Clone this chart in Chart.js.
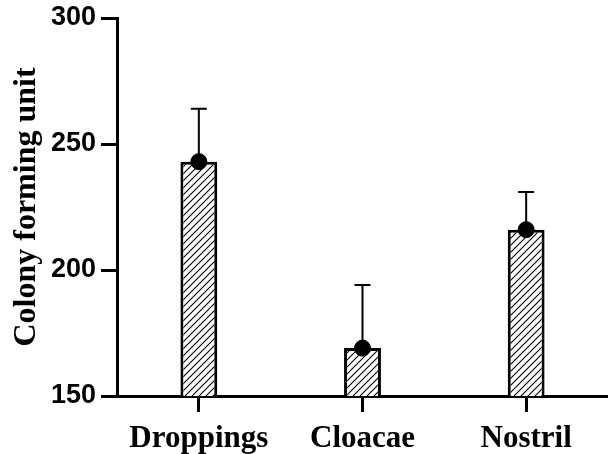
<!DOCTYPE html>
<html>
<head>
<meta charset="utf-8">
<script src="https://cdn.jsdelivr.net/npm/chart.js@4/dist/chart.umd.min.js"></script>
<style>
  body { margin: 0; background: #fff; }
  #chart { display: block; }
</style>
</head>
<body>
<canvas id="chart" width="608" height="454"></canvas>
<script>
const categories = ['Droppings', 'Cloacae', 'Nostril'];
const means = [243, 169, 216];
const errors = [21, 25, 15];
const yTicks = [150, 200, 250, 300];

// diagonal hatch for the bars
function makeHatch() {
  const c = document.createElement('canvas');
  c.width = 7;
  c.height = 7;
  const g = c.getContext('2d');
  g.fillStyle = '#fff';
  g.fillRect(0, 0, 7, 7);
  g.strokeStyle = '#000';
  g.lineWidth = 1.1;
  g.beginPath();
  g.moveTo(-1, 8); g.lineTo(8, -1);
  g.moveTo(-1, 1); g.lineTo(1, -1);
  g.moveTo(6, 8); g.lineTo(8, 6);
  g.stroke();
  return g.createPattern(c, 'repeat');
}

const errorBars = {
  id: 'errorBars',
  afterDatasetsDraw(chart) {
    const ctx = chart.ctx;
    const x = chart.scales.x, y = chart.scales.y;
    ctx.save();
    ctx.strokeStyle = '#000';
    ctx.lineWidth = 2;
    means.forEach((m, i) => {
      const px = x.getPixelForValue(i);
      const top = y.getPixelForValue(m + errors[i]);
      ctx.beginPath();
      ctx.moveTo(px, y.getPixelForValue(m));
      ctx.lineTo(px, top);
      ctx.moveTo(px - 8, top);
      ctx.lineTo(px + 8, top);
      ctx.stroke();
    });
    ctx.restore();
  }
};

const ctx = document.getElementById('chart');
new Chart(ctx, {
  type: 'bar',
  data: {
    labels: categories,
    datasets: [{
      type: 'line',
      data: means,
      showLine: false,
      pointRadius: 8,
      pointBackgroundColor: '#000',
      pointBorderColor: '#000',
      order: 0
    }, {
      data: means,
      backgroundColor: makeHatch(),
      borderColor: '#000',
      borderWidth: 3,
      borderSkipped: false,
      barPercentage: 0.225,
      categoryPercentage: 1,
      order: 1
    }]
  },
  options: {
    responsive: false,
    animation: false,
    layout: { autoPadding: false, padding: { top: 18, right: 0, left: 0, bottom: 0 } },
    plugins: { legend: { display: false }, tooltip: { enabled: false } },
    scales: {
      x: {
        grid: { offset: false, drawOnChartArea: false, tickLength: 16, tickWidth: 3, tickColor: '#000' },
        border: { width: 3, color: '#000' },
        ticks: {
          color: '#000',
          padding: 8,
          font: { family: '"Liberation Serif", "Times New Roman", serif', size: 31, weight: 'bold' }
        },
        afterFit(scale) {
          scale.height = 58;
          scale.paddingLeft = 0;
          scale.paddingRight = 0;
        }
      },
      y: {
        min: 150,
        max: 300,
        afterBuildTicks(scale) { scale.ticks = yTicks.map(v => ({ value: v })); },
        grid: { drawOnChartArea: false, tickLength: 16, tickWidth: 3, tickColor: '#000' },
        border: { width: 3, color: '#000' },
        ticks: {
          color: '#000',
          padding: 5,
          font: { family: '"Liberation Sans", Arial, sans-serif', size: 27, weight: 'bold' }
        },
        title: {
          display: true,
          text: 'Colony forming unit',
          color: '#000',
          padding: { top: 8, bottom: 0 },
          font: { family: '"Liberation Serif", "Times New Roman", serif', size: 32, weight: 'bold' }
        },
        afterFit(scale) {
          scale.width = 117;
          scale.paddingTop = 0;
          scale.paddingBottom = 0;
        }
      }
    }
  },
  plugins: [errorBars]
});
</script>
</body>
</html>
